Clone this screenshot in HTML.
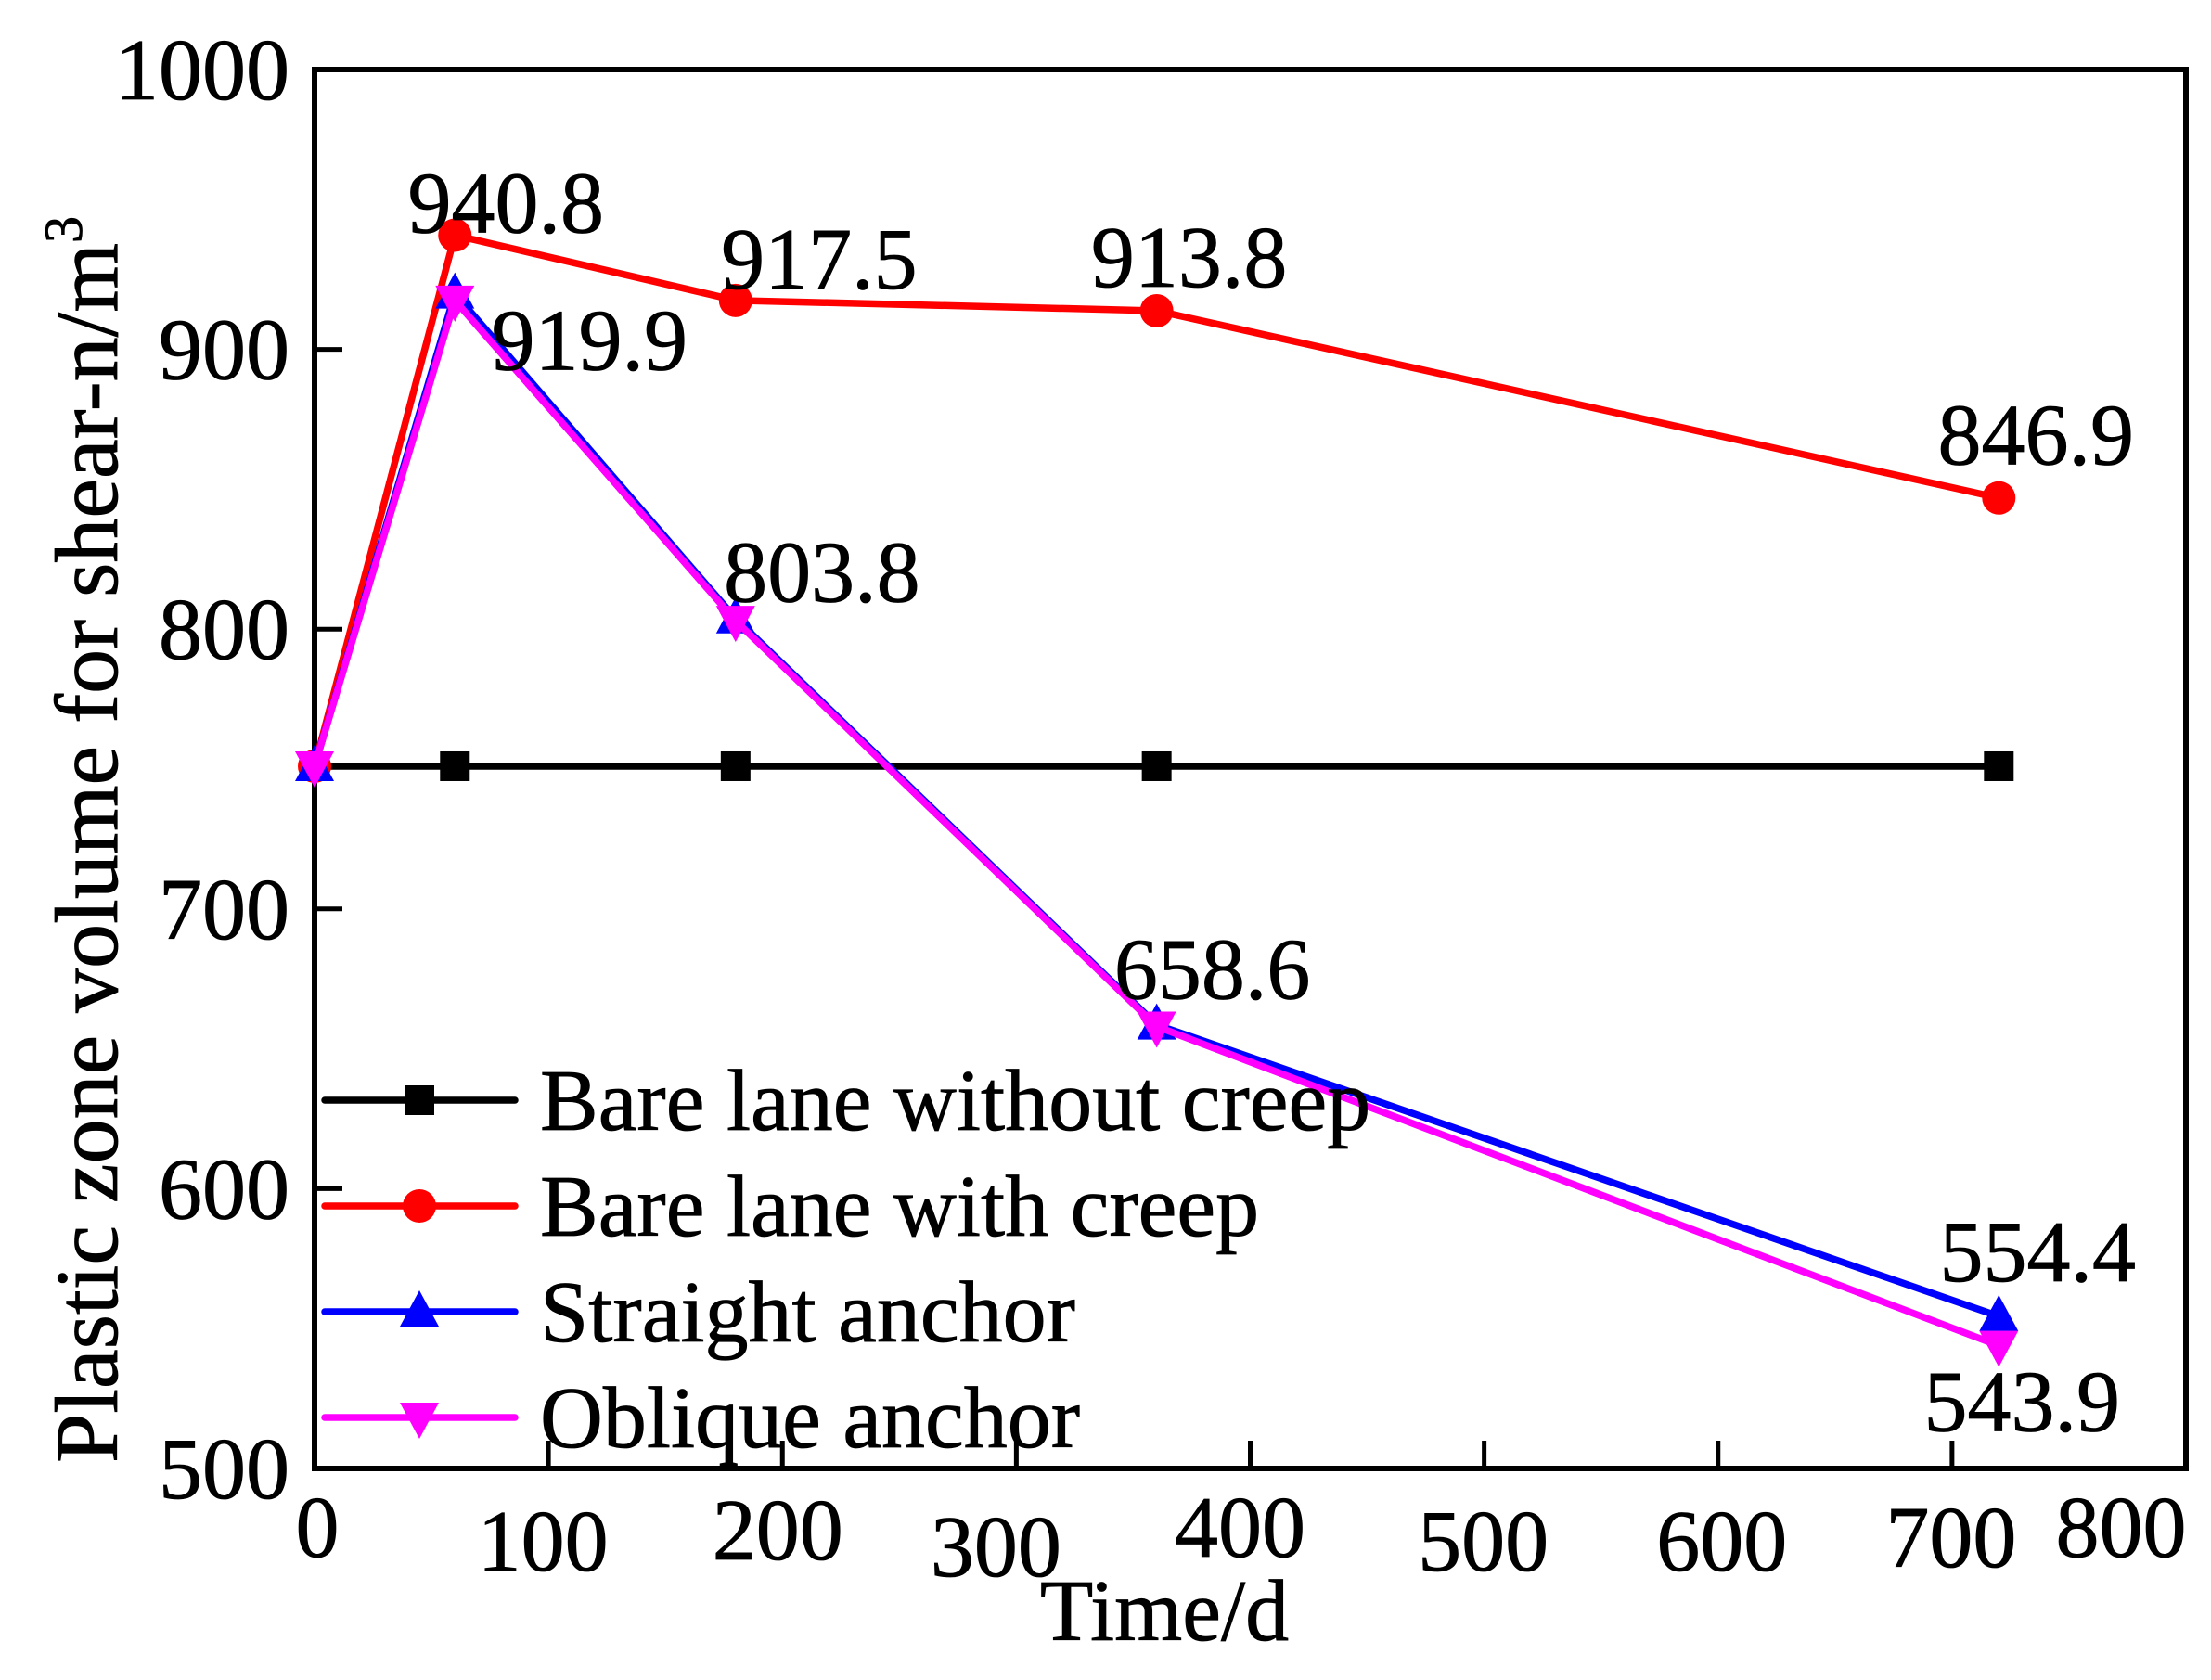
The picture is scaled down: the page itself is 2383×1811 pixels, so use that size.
<!DOCTYPE html>
<html><head><meta charset="utf-8"><style>
html,body{margin:0;padding:0;background:#fff;}
svg{display:block;font-family:"Liberation Serif",serif;}
text{stroke:#000;stroke-width:0.8px;}
</style></head><body>
<svg id="chart" width="2383" height="1811" viewBox="0 0 2383 1811" xmlns="http://www.w3.org/2000/svg">
<g id="plot"></g>
</svg>
<script>
const xVals = [0, 60, 180, 360, 720];
const seriesNames = ["Bare lane without creep","Bare lane with creep","Straight anchor","Oblique anchor"];
const bareNoCreep = [751, 751, 751, 751, 751];
const bareCreep = [751, 940.8, 917.5, 913.8, 846.9];
const straightAnchor = [751, 919.9, 803.8, 658.6, 554.4];
const obliqueAnchor = [751, 917.5, 803.0, 658.0, 543.9];
const xTicks = [0,100,200,300,400,500,600,700,800];
const yTicks = [500,600,700,800,900,1000];
const valueLabels = ["940.8","917.5","913.8","846.9","919.9","803.8","658.6","554.4","543.9"];

const L=339,R=2356,T=75,B=1583;
const X=v=>L+(v-0)/800*(R-L);
const Y=v=>B-(v-500)/500*(B-T);
const NS="http://www.w3.org/2000/svg";
const g=document.getElementById('plot');
function mk(tag,attrs,parent){const e=document.createElementNS(NS,tag);for(const k in attrs)e.setAttribute(k,attrs[k]);(parent||g).appendChild(e);return e;}

let fr=mk('rect',{x:L,y:T,width:R-L,height:B-T,fill:'none',stroke:'#000','stroke-width':6});



const xLabDx=[3,-6,-5,-22,-11,-1,4,-1,-70];
const xLabY=[1678,1693,1681,1699,1678,1693,1693,1689,1678];
xTicks.forEach((t,i)=>{
  const x=X(t);
  if(i>0&&i<xTicks.length-1){const tk=mk('line',{x1:x,y1:B,x2:x,y2:B-30,stroke:'#000','stroke-width':5});
  
  }
  const tx=mk('text',{x:x+xLabDx[i],y:xLabY[i],'font-size':94,'text-anchor':'middle'});
  tx.textContent=t;
  
  
});
yTicks.forEach((t,i)=>{
  const y=Y(t);
  if(i>0&&i<yTicks.length-1){const tk=mk('line',{x1:L,y1:y,x2:L+30,y2:y,stroke:'#000','stroke-width':5});
  
  }
  const tx=mk('text',{x:312,y:y+32,'font-size':94,'text-anchor':'end'});
  tx.textContent=t;
  
  
});

const xt=mk('text',{x:1255,y:1768,'font-size':94,'text-anchor':'middle'});
xt.textContent='Time/d';


const yt=mk('text',{x:0,y:0,'font-size':96,'text-anchor':'middle',transform:'translate(126,905) rotate(-90)'});
yt.innerHTML='Plastic zone volume for shear-n/m<tspan dy="-38" font-size="58">3</tspan>';



function marker(type,cx,cy,color,parent){
  let m;
  if(type==='sq') m=mk('rect',{x:cx-16,y:cy-16,width:32,height:32,fill:color},parent);
  else if(type==='ci') m=mk('circle',{cx:cx,cy:cy,r:18,fill:color},parent);
  else if(type==='up') m=mk('polygon',{points:`${cx},${cy-23} ${cx-21},${cy+16} ${cx+21},${cy+16}`,fill:color},parent);
  else m=mk('polygon',{points:`${cx},${cy+23} ${cx-21},${cy-16} ${cx+21},${cy-16}`,fill:color},parent);
  return m;
}
const series=[[bareNoCreep,'#000','sq'],[bareCreep,'#ff0000','ci'],[straightAnchor,'#0000ff','up'],[obliqueAnchor,'#ff00ff','dn']];
series.forEach((s,si)=>{
  const sg=mk('g',{});
  
  
  mk('polyline',{points:s[0].map((v,i)=>X(xVals[i])+','+Y(v)).join(' '),fill:'none',stroke:s[1],'stroke-width':7.5,'stroke-linejoin':'round'},sg);
  s[0].forEach((v,i)=>{
    const m=marker(s[2],X(xVals[i]),Y(v),s[1],sg);
    
    
  });
});

const labelRefs=[[bareCreep,1,55,-35],[bareCreep,2,90,-45],[bareCreep,3,35,-58],[bareCreep,4,40,-68],[straightAnchor,1,145,50],[straightAnchor,2,93,-50],[straightAnchor,3,60,-60],[straightAnchor,4,42,-70],[obliqueAnchor,4,25,60]];
labelRefs.forEach((r,i)=>{
  const t=mk('text',{x:X(xVals[r[1]])+r[2],y:Y(r[0][r[1]])+r[3]+32,'font-size':94,'text-anchor':'middle'});
  t.textContent=valueLabels[i];
  
  
});

const lg=mk('g',{});


const legY=[1186,1300,1414,1528];
series.forEach((s,i)=>{
  const e=mk('g',{},lg);
  
  
  mk('line',{x1:350,y1:legY[i],x2:555,y2:legY[i],stroke:s[1],'stroke-width':7.5,'stroke-linecap':'round'},e);
  marker(s[2],452,legY[i],s[1],e);
  const t=mk('text',{x:582,y:legY[i]+32,'font-size':94},e);
  t.textContent=seriesNames[i];
});
</script>
</body></html>
